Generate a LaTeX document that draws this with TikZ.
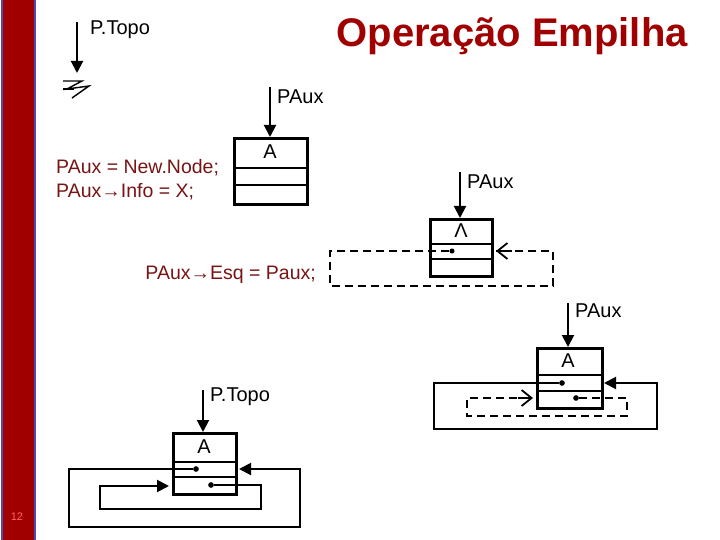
\documentclass[tikz,border=0pt]{standalone}
\usepackage{fontspec}
\setmainfont{Liberation Sans}
\usetikzlibrary{arrows.meta}
\definecolor{barred}{RGB}{160,0,0}
\definecolor{txtred}{RGB}{120,20,20}
\begin{document}
\begin{tikzpicture}[x=1pt,y=-1pt,
  lbl/.style={font=\fontsize{20}{22}\selectfont,inner sep=0pt},
  code/.style={font=\fontsize{19.5}{24}\selectfont,inner sep=0pt,text=txtred},
  ptr/.style={line width=2pt,-{Triangle[length=12pt,width=12pt]}},
  box/.style={draw,line width=2.6pt},
  dv/.style={line width=2.4pt},
  dot/.style={circle,fill,inner sep=2pt},
  dsh/.style={line width=2pt,dash pattern=on 8pt off 5pt},
  sol/.style={line width=1.6pt}]
\useasboundingbox (0,0) rectangle (720,540);
\fill[white] (0,0) rectangle (720,540);
\draw[fill=barred,draw=blue!40!gray,line width=1.5pt] (2,-2) rectangle (35,542);
\node[text=red!60!white,font=\fontsize{11}{12}\selectfont] (pg) at (17,517) {12};
\node[anchor=east,text=barred,font=\bfseries\fontsize{40}{44}\selectfont,inner sep=0pt] (title) at (688,36) {Operação Empilha};
% P.Topo ground
\coordinate (t0) at (77,22); \coordinate (t1) at (77,73);
\draw[ptr] (t0) -- (t1);
\node[lbl,anchor=west] (tl) at (90,30) {P.Topo};
\draw[line width=1.4pt,line join=miter] (63,81) -- (82,81) -- (67,89) -- (89,86) -- (72,98);
\draw[line width=1.4pt] (63,89) -- (74,89);
% box1
\node[box,minimum width=73pt,minimum height=66pt,anchor=north west,inner sep=0pt] (b1) at (233,137) {};
\draw[dv] (233,168) -- (306,168); \draw[dv] (233,185) -- (306,185);
\node[lbl] (a1) at (270,152) {A};
\coordinate (p1) at (270,87);
\draw[ptr] (p1) -- (b1.north -| p1);
\node[lbl,anchor=west] (pl1) at (277,97) {PAux};
\node[code,anchor=west,align=left] (c1) at (56,180) {PAux = New.Node;\\PAux→Info = X;};
% box2
\node[box,minimum width=62pt,minimum height=57pt,anchor=north west,inner sep=0pt] (b2) at (429,218) {};
\draw[dv] (429,244) -- (491,244); \draw[dv] (429,259) -- (491,259);
\node[lbl] (a2) at (461,231) {Λ};
\coordinate (p2) at (460,172);
\draw[ptr] (p2) -- (b2.north -| p2);
\node[lbl,anchor=west] (pl2) at (467,182) {PAux};
\node[dot,inner sep=1.8pt] (d2) at (452,251) {};
\draw[dsh] (d2) -- (330,251) -- (330,286) -- (553,286) -- (553,251) -- (496,251);
\draw[line width=1.8pt,-{Straight Barb[length=10pt,width=16pt]}] (512,251) -- (496,251);
\node[code,anchor=east] (c2) at (316,275) {PAux→Esq = Paux;};
% box3
\node[box,minimum width=65pt,minimum height=60pt,anchor=north west,inner sep=0pt] (b3) at (536,347) {};
\draw[dv] (536,375) -- (601,375); \draw[dv] (536,391) -- (601,391);
\node[lbl] (a3) at (568,361) {A};
\coordinate (p3) at (568,303);
\draw[ptr] (p3) -- (b3.north -| p3);
\node[lbl,anchor=west] (pl3) at (575,311) {PAux};
\node[dot] (d3a) at (562,383) {};
\node[dot] (d3b) at (576,398) {};
\draw[sol] (d3a) -- (434,383) -- (434,429) -- (657,429) -- (657,383) -- (612,383);
\draw[ptr] (622,383) -- (604,383);
\draw[dsh] (d3b) -- (627,398) -- (627,416) -- (467,416) -- (467,398) -- (520,398);
\draw[line width=1.8pt,-{Straight Barb[length=10pt,width=16pt]}] (518,398) -- (533,398);
% box4
\node[box,minimum width=63pt,minimum height=61pt,anchor=north west,inner sep=0pt] (b4) at (172,432) {};
\draw[dv] (172,462) -- (235,462); \draw[dv] (172,477) -- (235,477);
\node[lbl] (a4) at (204,447) {A};
\coordinate (p4) at (203,390);
\draw[ptr] (p4) -- (b4.north -| p4);
\node[lbl,anchor=west] (pl4) at (210,397) {P.Topo};
\node[dot] (d4a) at (196,469) {};
\node[dot] (d4b) at (211,485) {};
\draw[sol] (d4a) -- (69,469) -- (69,527) -- (300,527) -- (300,469) -- (250,469);
\draw[ptr] (258,469) -- (239,469);
\draw[sol] (d4b) -- (261,485) -- (261,509) -- (100,509) -- (100,486) -- (155,486);
\draw[ptr] (150,486) -- (169,486);
\end{tikzpicture}
\end{document}
